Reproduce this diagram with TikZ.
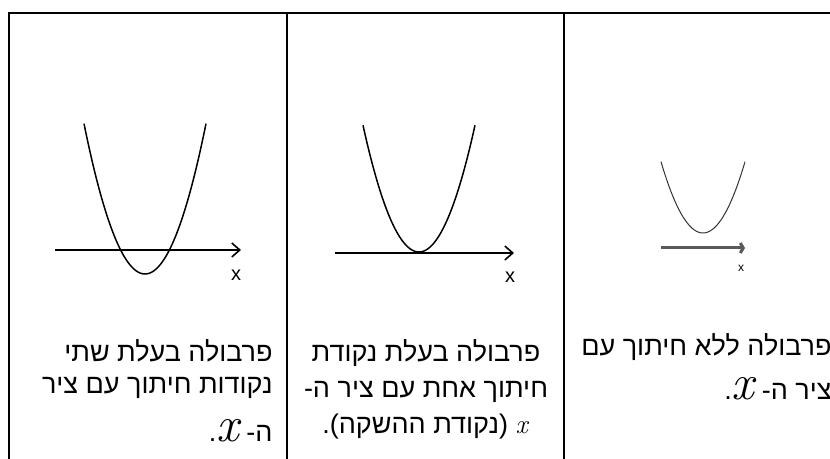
\documentclass[tikz,border=0pt]{standalone}
\usepackage{fontspec}
\setsansfont{Liberation Sans}
\newfontfamily\hebfont[Script=Hebrew]{Liberation Sans}
\TeXXeTstate=1
\usetikzlibrary{arrows.meta}
\newcommand\bigvar{{\fontsize{25}{25}\selectfont\rmfamily\itshape x}}
\newcommand\smallvar{{\rmfamily\itshape x}}

\begin{document}
\begin{tikzpicture}[x=0.5pt,y=-0.5pt,
  rule/.style={line width=1pt,black},
  axis/.style={line width=0.8pt,-{Straight Barb[length=4pt,width=7pt]}},
  curve/.style={line width=0.75pt,samples=60,smooth},
  heb/.style={font=\hebfont\fontsize{13.5}{16}\selectfont,inner sep=0pt},
  lbl/.style={font=\sffamily\fontsize{10}{10}\selectfont,inner sep=0pt}]
\useasboundingbox (0,0) rectangle (830,459);
% table rules
\draw[rule] (9,459) -- (9,13) -- (830,13);
\draw[rule] (287,13) -- (287,459);
\draw[rule] (564,13) -- (564,459);
% two cuts, one touch
\foreach \n/\vx/\vy/\w/\ay/\ax/\bx/\lx/\ly in {
  a/145/274/61/250/55/241/236/275,
  b/419/252/56/253/335/514/510/277}{
  \draw[curve,domain=-\w:\w] plot ({\vx+\x},{\vy-0.0404*\x*\x});
  \coordinate (\n0) at (\ax,\ay);
  \coordinate (\n1) at (\bx,\ay);
  \draw[axis] (\n0) -- (\n1);
  \node[lbl] (\n x) at (\lx,\ly) {x};
}
% no cut
\draw[curve,line width=0.5pt,black!80,domain=-42:42] plot ({703+\x},{233-0.0404*\x*\x});
\coordinate (c0) at (661,248);
\coordinate (c1) at (745,248);
\draw[line width=1.5pt,black!65,-{Straight Barb[length=1.5pt,width=5pt]}] (c0) -- (c1);
\node[lbl,font=\sffamily\fontsize{6}{6}\selectfont] (c x) at (741,268) {x};
% captions
\node[heb,anchor=base east] (l1) at (273,362) {\beginR פרבולה בעלת שתי\endR};
\node[heb,anchor=base east] (l2) at (273,394) {\beginR נקודות חיתוך עם ציר\endR};
\node[heb,anchor=base east] (l3) at (273,442) {\beginR ה- \bigvar.\endR};
\node[heb,anchor=base] (m1) at (426,362) {\beginR פרבולה בעלת נקודת\endR};
\node[heb,anchor=base] (m2) at (426,398) {\beginR חיתוך אחת עם ציר ה-\endR};
\node[heb,anchor=base] (m3) at (425,434) {\beginR \smallvar{} (נקודת ההשקה).\endR};
\node[heb,anchor=base east] (r1) at (832,356) {\beginR פרבולה ללא חיתוך עם\endR};
\node[heb,anchor=base east] (r2) at (832,400) {\beginR ציר ה- \bigvar.\endR};
\end{tikzpicture}
\end{document}
